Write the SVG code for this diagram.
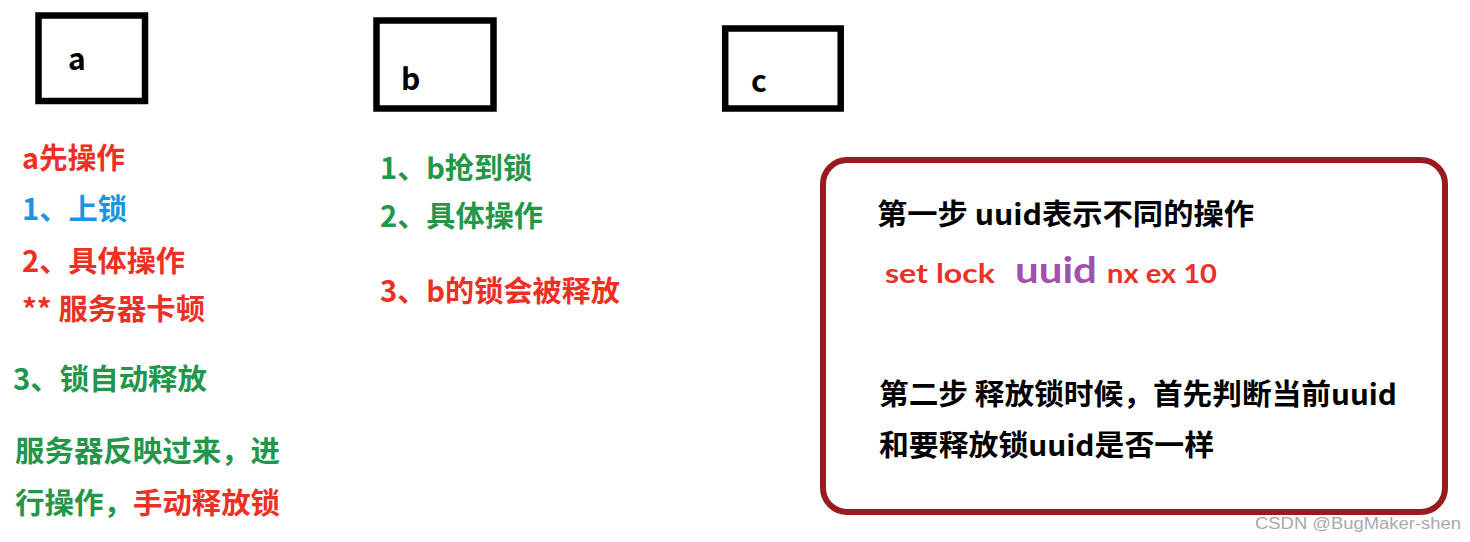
<svg xmlns="http://www.w3.org/2000/svg" width="1470" height="542" viewBox="0 0 1470 542">
  <style>
    .box { fill: #ffffff; stroke: #000000; stroke-width: 6.5; }
    .note { fill: #ffffff; stroke: #981b1f; stroke-width: 6; }
    .t { font-family: "Noto Sans CJK SC", "Noto Sans", sans-serif; font-weight: 700; font-size: 29px; }
    .lbl { font-family: "Noto Sans CJK SC", "Noto Sans", sans-serif; font-weight: 700; font-size: 30px; fill: #000; }
    .cmd { font-family: "Lato", "Open Sans", sans-serif; font-weight: 700; }
    .red { fill: #ec3026; }
    .blue { fill: #1a96e0; }
    .green { fill: #23964a; }
    .black { fill: #000000; }
    .purple { fill: #a44fb0; }
    .wm { font-family: "Liberation Sans", Arial, sans-serif; font-size: 16px; fill: #a9a9a9; }
  </style>
  <rect width="1470" height="542" fill="#ffffff"/>

  <g id="node-a">
    <rect class="box" x="38.5" y="15.5" width="106.5" height="85.5"/>
    <text class="lbl" x="68" y="70">a</text>
  </g>
  <g id="node-b">
    <rect class="box" x="376.5" y="20.5" width="117" height="88"/>
    <text class="lbl" x="401" y="90">b</text>
  </g>
  <g id="node-c">
    <rect class="box" x="725.2" y="28.5" width="115.5" height="80"/>
    <text class="lbl" x="751" y="92">c</text>
  </g>

  <g id="notes-a">
    <text class="t red" x="22" y="169" textLength="103" lengthAdjust="spacingAndGlyphs">a先操作</text>
    <text class="t blue" x="22" y="220" textLength="105" lengthAdjust="spacingAndGlyphs">1、上锁</text>
    <text class="t red" x="22" y="272" textLength="163" lengthAdjust="spacingAndGlyphs">2、具体操作</text>
    <text class="t red" x="22" y="320" textLength="183" lengthAdjust="spacingAndGlyphs">** 服务器卡顿</text>
    <text class="t green" x="13" y="390" textLength="194" lengthAdjust="spacingAndGlyphs">3、锁自动释放</text>
    <text class="t green" x="15" y="462" textLength="265" lengthAdjust="spacingAndGlyphs">服务器反映过来，进</text>
    <text class="t green" x="15" y="514" textLength="118" lengthAdjust="spacingAndGlyphs">行操作，</text>
    <text class="t red" x="133" y="514" textLength="147" lengthAdjust="spacingAndGlyphs">手动释放锁</text>
  </g>

  <g id="notes-b">
    <text class="t green" x="380" y="179" textLength="152" lengthAdjust="spacingAndGlyphs">1、b抢到锁</text>
    <text class="t green" x="380" y="227" textLength="163" lengthAdjust="spacingAndGlyphs">2、具体操作</text>
    <text class="t red" x="380" y="302" textLength="240" lengthAdjust="spacingAndGlyphs">3、b的锁会被释放</text>
  </g>

  <g id="node-explain">
    <rect class="note" x="823" y="160" width="622" height="352" rx="24" ry="24"/>
    <text class="t black" x="877" y="225" textLength="377" lengthAdjust="spacingAndGlyphs">第一步 uuid表示不同的操作</text>
    <text class="cmd red" x="885" y="283" font-size="27.5" textLength="110" lengthAdjust="spacingAndGlyphs">set lock</text>
    <text class="cmd purple" x="1015" y="283" font-size="36" textLength="82" lengthAdjust="spacingAndGlyphs">uuid</text>
    <text class="cmd red" x="1107" y="283" font-size="27.5" textLength="110" lengthAdjust="spacingAndGlyphs">nx ex 10</text>
    <text class="t black" x="879" y="405" textLength="518" lengthAdjust="spacingAndGlyphs">第二步 释放锁时候，首先判断当前uuid</text>
    <text class="t black" x="879" y="456" textLength="335" lengthAdjust="spacingAndGlyphs">和要释放锁uuid是否一样</text>
  </g>

  <g id="connectors"/>

  <text class="wm" x="1255" y="529" textLength="206" lengthAdjust="spacingAndGlyphs">CSDN @BugMaker-shen</text>
</svg>
